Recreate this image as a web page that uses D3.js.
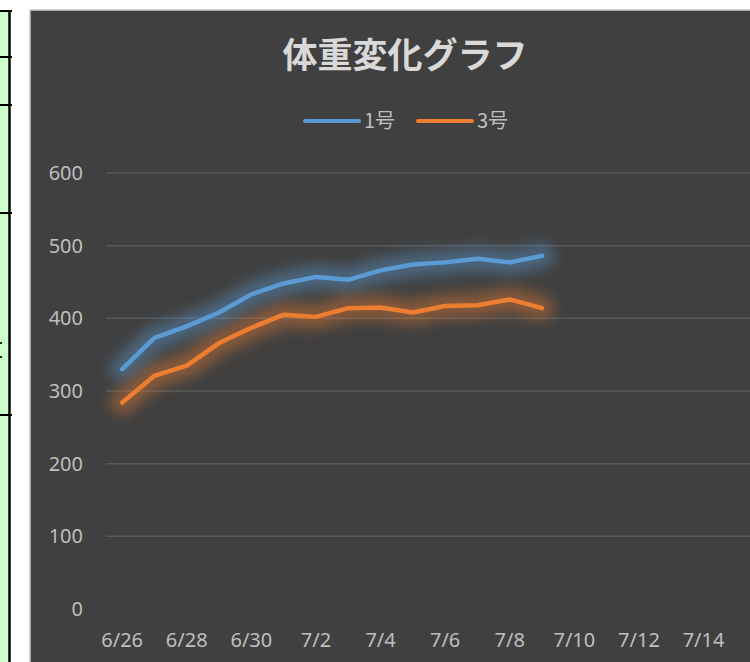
<!DOCTYPE html>
<html>
<head>
<meta charset="utf-8">
<script src="https://cdn.jsdelivr.net/npm/d3@7"></script>
<style>
  body { margin: 0; background: #ffffff; overflow: hidden; }
  svg { display: block; }
</style>
</head>
<body>
<div id="container"></div>
<script>
// axis days (category date axis, one slot per day)
const days = ["6/26", "6/27", "6/28", "6/29", "6/30", "7/1", "7/2", "7/3", "7/4", "7/5",
              "7/6", "7/7", "7/8", "7/9", "7/10", "7/11", "7/12", "7/13", "7/14", "7/15"];
const tickLabels = ["6/26", "6/28", "6/30", "7/2", "7/4", "7/6", "7/8", "7/10", "7/12", "7/14"];
const yTicks = [0, 100, 200, 300, 400, 500, 600];

const measuredDays = ["6/26", "6/27", "6/28", "6/29", "6/30", "7/1", "7/2",
                      "7/3", "7/4", "7/5", "7/6", "7/7", "7/8", "7/9"];
const weight1 = [330, 373, 389, 408, 433, 448, 457, 453, 466, 474, 477, 482, 477, 486];
const weight3 = [284, 321, 335, 366, 387, 405, 402, 414, 415, 408, 417, 418, 426, 414];

const seriesNames = ["1号", "3号"];
const seriesColors = ["#5b9bd5", "#ed7d31"];

const width = 750, height = 662;

const svg = d3.select("#container").append("svg")
    .attr("width", width)
    .attr("height", height);

const defs = svg.append("defs");
defs.append("filter")
    .attr("id", "glow")
    .attr("x", "-20%").attr("y", "-60%")
    .attr("width", "140%").attr("height", "220%")
  .append("feGaussianBlur")
    .attr("stdDeviation", 7);

// spreadsheet cells peeking out at the left
svg.append("rect")
    .attr("x", 0).attr("y", 11)
    .attr("width", 9).attr("height", height - 11)
    .attr("fill", "#ccffcc");
svg.append("line")
    .attr("x1", 9.5).attr("x2", 9.5)
    .attr("y1", 10).attr("y2", height)
    .attr("stroke", "#000").attr("stroke-width", 2.5);
[11, 57, 105, 213, 415].forEach(y => {
  svg.append("line")
      .attr("x1", 0).attr("x2", 12)
      .attr("y1", y).attr("y2", y)
      .attr("stroke", "#000").attr("stroke-width", 2);
});
[343, 357].forEach(y => {
  svg.append("rect").attr("x", 0).attr("y", y - 1)
      .attr("width", 2).attr("height", 2).attr("fill", "#222");
});

// chart area
svg.append("rect")
    .attr("x", 30).attr("y", 10)
    .attr("width", 740).attr("height", 670)
    .attr("fill", "#404040")
    .attr("stroke", "#c8c8c8")
    .attr("stroke-width", 1.5);

const x = d3.scaleBand()
    .domain(days)
    .range([106, 752]);

const y = d3.scaleLinear()
    .domain([0, 600])
    .range([609, 173]);

// gridlines
svg.append("g")
    .selectAll("line")
    .data(yTicks.filter(d => d > 0))
    .join("line")
    .attr("x1", 106).attr("x2", 752)
    .attr("y1", d => y(d)).attr("y2", d => y(d))
    .attr("stroke", "#595959")
    .attr("stroke-width", 1.5);

// y axis labels
svg.append("g")
    .selectAll("text")
    .data(yTicks)
    .join("text")
    .attr("x", 83)
    .attr("y", d => y(d))
    .attr("dy", "0.35em")
    .attr("text-anchor", "end")
    .attr("font-family", "'Noto Sans', sans-serif")
    .attr("font-size", 20)
    .attr("fill", "#bfbfbf")
    .text(d => d);

// x axis labels
svg.append("g")
    .selectAll("text")
    .data(tickLabels)
    .join("text")
    .attr("x", d => x(d) + x.bandwidth() / 2)
    .attr("y", 647)
    .attr("text-anchor", "middle")
    .attr("font-family", "'Noto Sans', sans-serif")
    .attr("font-size", 20)
    .attr("fill", "#bfbfbf")
    .text(d => d);

const line = d3.line()
    .x((d, i) => x(measuredDays[i]) + x.bandwidth() / 2)
    .y(d => y(d));

const series = [weight1, weight3];

// soft glow underneath each line
series.forEach((values, i) => {
  svg.append("path")
      .datum(values)
      .attr("d", line)
      .attr("fill", "none")
      .attr("stroke", seriesColors[i])
      .attr("stroke-width", 24)
      .attr("stroke-linejoin", "round")
      .attr("stroke-linecap", "round")
      .attr("opacity", 0.42)
      .attr("filter", "url(#glow)");
});

series.forEach((values, i) => {
  svg.append("path")
      .datum(values)
      .attr("d", line)
      .attr("fill", "none")
      .attr("stroke", seriesColors[i])
      .attr("stroke-width", 4.5)
      .attr("stroke-linejoin", "round")
      .attr("stroke-linecap", "round");
});

// title
svg.append("text")
    .attr("x", 405)
    .attr("y", 68)
    .attr("text-anchor", "middle")
    .attr("font-family", "'Noto Sans CJK JP', sans-serif")
    .attr("font-weight", "bold")
    .attr("font-size", 35)
    .attr("fill", "#d9d9d9")
    .text("体重変化グラフ");

// legend
const legendX = [305, 418];
const legend = svg.append("g")
    .selectAll("g")
    .data(seriesNames)
    .join("g")
    .attr("transform", (d, i) => `translate(${legendX[i]},121)`);
legend.append("line")
    .attr("x1", 0).attr("x2", 54)
    .attr("stroke", (d, i) => seriesColors[i])
    .attr("stroke-width", 4)
    .attr("stroke-linecap", "round");
legend.append("text")
    .attr("x", 59)
    .attr("dy", "0.36em")
    .attr("font-family", "'Noto Sans CJK JP', sans-serif")
    .attr("font-size", 20)
    .attr("fill", "#bfbfbf")
    .text(d => d);
</script>
</body>
</html>
